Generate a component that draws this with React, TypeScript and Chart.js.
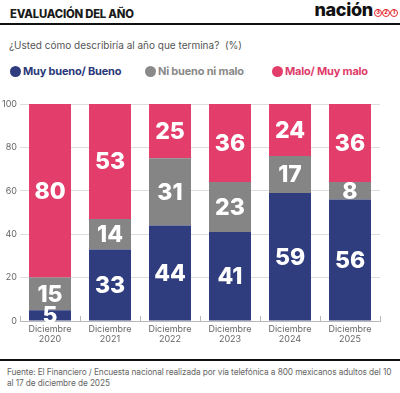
import React, { useEffect, useRef } from "react";
import { Chart, registerables } from "chart.js";

Chart.register(...registerables);

const categories: string[][] = [
  ["Diciembre", "2020"],
  ["Diciembre", "2021"],
  ["Diciembre", "2022"],
  ["Diciembre", "2023"],
  ["Diciembre", "2024"],
  ["Diciembre", "2025"],
];
const seriesNames = ["Muy bueno/ Bueno", "Ni bueno ni malo", "Malo/ Muy malo"];
const bueno = [5, 33, 44, 41, 59, 56];
const niBuenoNiMalo = [15, 14, 31, 23, 17, 8];
const malo = [80, 53, 25, 36, 24, 36];
const yTickValues = [0, 20, 40, 60, 80, 100];

const NAVY = "#2f3d7e";
const GRAY = "#858586";
const PINK = "#e33d6b";

const valueLabels = {
  id: "valueLabels",
  afterDatasetsDraw(chart: any) {
    const ctx = chart.ctx;
    ctx.save();
    ctx.font = '800 23px Inter, "Open Sans", sans-serif';
    ctx.fillStyle = "#ffffff";
    ctx.textAlign = "center";
    ctx.textBaseline = "middle";
    chart.data.datasets.forEach((ds: any, i: number) => {
      const meta = chart.getDatasetMeta(i);
      meta.data.forEach((bar: any, j: number) => {
        const p = bar.getProps(["x", "y", "base"], true);
        ctx.fillText(String(ds.data[j]), p.x, (p.y + p.base) / 2 + 1);
      });
    });
    ctx.restore();
  },
};

const boundaryTicks = {
  id: "boundaryTicks",
  afterDraw(chart: any) {
    const ctx = chart.ctx;
    const { left, right, bottom } = chart.chartArea;
    const n = chart.data.labels.length;
    const w = (right - left) / n;
    ctx.save();
    ctx.strokeStyle = "#b8b8b8";
    ctx.lineWidth = 1;
    for (let i = 0; i <= n; i++) {
      const x = Math.round(left + i * w) + 0.5;
      ctx.beginPath();
      ctx.moveTo(x, bottom);
      ctx.lineTo(x, bottom - 5);
      ctx.stroke();
    }
    ctx.restore();
  },
};

function ChartCanvas() {
  const ref = useRef<HTMLCanvasElement | null>(null);
  useEffect(() => {
    if (!ref.current) return;
    const chart = new Chart(ref.current, {
      type: "bar",
      data: {
        labels: categories,
        datasets: [
          { label: seriesNames[0], data: bueno, backgroundColor: NAVY, borderWidth: 0 },
          { label: seriesNames[1], data: niBuenoNiMalo, backgroundColor: GRAY, borderWidth: 0 },
          { label: seriesNames[2], data: malo, backgroundColor: PINK, borderWidth: 0 },
        ],
      },
      options: {
        animation: false,
        responsive: false,
        maintainAspectRatio: false,
        layout: { padding: { top: 9, right: 20, left: 0, bottom: 0 } },
        datasets: { bar: { barPercentage: 0.7, categoryPercentage: 1 } },
        plugins: { legend: { display: false }, tooltip: { enabled: false } },
        scales: {
          x: {
            stacked: true,
            grid: { display: false, drawTicks: false },
            border: { display: true, color: "#b8b8b8", width: 1 },
            ticks: {
              padding: 3,
              color: "#666666",
              font: { family: "Inter, sans-serif", size: 9, lineHeight: 1.15 },
            },
            afterFit: (s: any) => {
              s.height = 34;
            },
          },
          y: {
            stacked: true,
            min: 0,
            max: 100,
            afterBuildTicks: (s: any) => {
              s.ticks = yTickValues.map((v) => ({ value: v }));
            },
            grid: { color: "#dddddd", drawTicks: false },
            border: { display: false },
            ticks: {
              padding: 3,
              color: "#666666",
              font: { family: "Inter, sans-serif", size: 9 },
            },
            afterFit: (s: any) => {
              s.width = 20;
            },
          },
        },
      },
      plugins: [valueLabels, boundaryTicks],
    } as any);
    return () => chart.destroy();
  }, []);
  return <canvas ref={ref} width={400} height={260} style={{ position: "absolute", left: 0, top: 95, width: 400, height: 260 }} />;
}

const circleStyle = (left: number): React.CSSProperties => ({
  position: "absolute",
  left,
  top: 9,
  width: 8,
  height: 8,
  boxSizing: "border-box",
  border: "1.3px solid #e2262f",
  borderRadius: "50%",
  color: "#e2262f",
  fontSize: 5.5,
  fontWeight: 800,
  lineHeight: "5.5px",
  textAlign: "center",
  fontFamily: "Inter, sans-serif",
});

const legendItems = [
  { name: seriesNames[0], color: NAVY, text: "#2b397a", left: 10 },
  { name: seriesNames[1], color: "#8a8a8a", text: "#8a8a8a", left: 145 },
  { name: seriesNames[2], color: PINK, text: "#e03c6a", left: 272 },
];

export default function App() {
  return (
    <div style={{ position: "absolute", left: 0, top: 0, width: 400, height: 393, background: "#fff", overflow: "hidden", fontFamily: "Inter, sans-serif" }}>
      <div style={{ position: "absolute", left: 10, top: 7, fontSize: 11.3, fontWeight: 800, color: "#1a1a1a", letterSpacing: -0.2, lineHeight: "14px" }}>
        EVALUACIÓN DEL AÑO
      </div>
      <div style={{ position: "absolute", right: 27, top: 0, fontSize: 18, fontWeight: 800, color: "#111", lineHeight: "20px", letterSpacing: -0.3 }}>
        nación
      </div>
      <div style={circleStyle(374)}>3</div>
      <div style={circleStyle(382)}>2</div>
      <div style={circleStyle(390)}>1</div>
      <div style={{ position: "absolute", left: 0, top: 23, width: 400, height: 2, background: "#111" }} />
      <div style={{ position: "absolute", left: 9, top: 38, fontSize: 10, color: "#555", lineHeight: "14px" }}>
        ¿Usted cómo describiría al año que termina?&nbsp; (%)
      </div>
      {legendItems.map((it) => (
        <div key={it.name} style={{ position: "absolute", left: it.left, top: 65, display: "flex", alignItems: "center", height: 12 }}>
          <div style={{ width: 11, height: 11, borderRadius: "50%", background: it.color, marginRight: 2 }} />
          <div style={{ fontSize: 11, fontWeight: 700, color: it.text, letterSpacing: -0.2 }}>{it.name}</div>
        </div>
      ))}
      <ChartCanvas />
      <div style={{ position: "absolute", left: 0, top: 359, width: 400, height: 2, background: "#111" }} />
      <div style={{ position: "absolute", left: 7, top: 367, width: 392, fontSize: 8.3, color: "#666", lineHeight: "10.5px", letterSpacing: -0.1 }}>
        Fuente: El Financiero / Encuesta nacional realizada por vía telefónica a 800 mexicanos adultos del 10 al 17 de diciembre de 2025
      </div>
    </div>
  );
}
